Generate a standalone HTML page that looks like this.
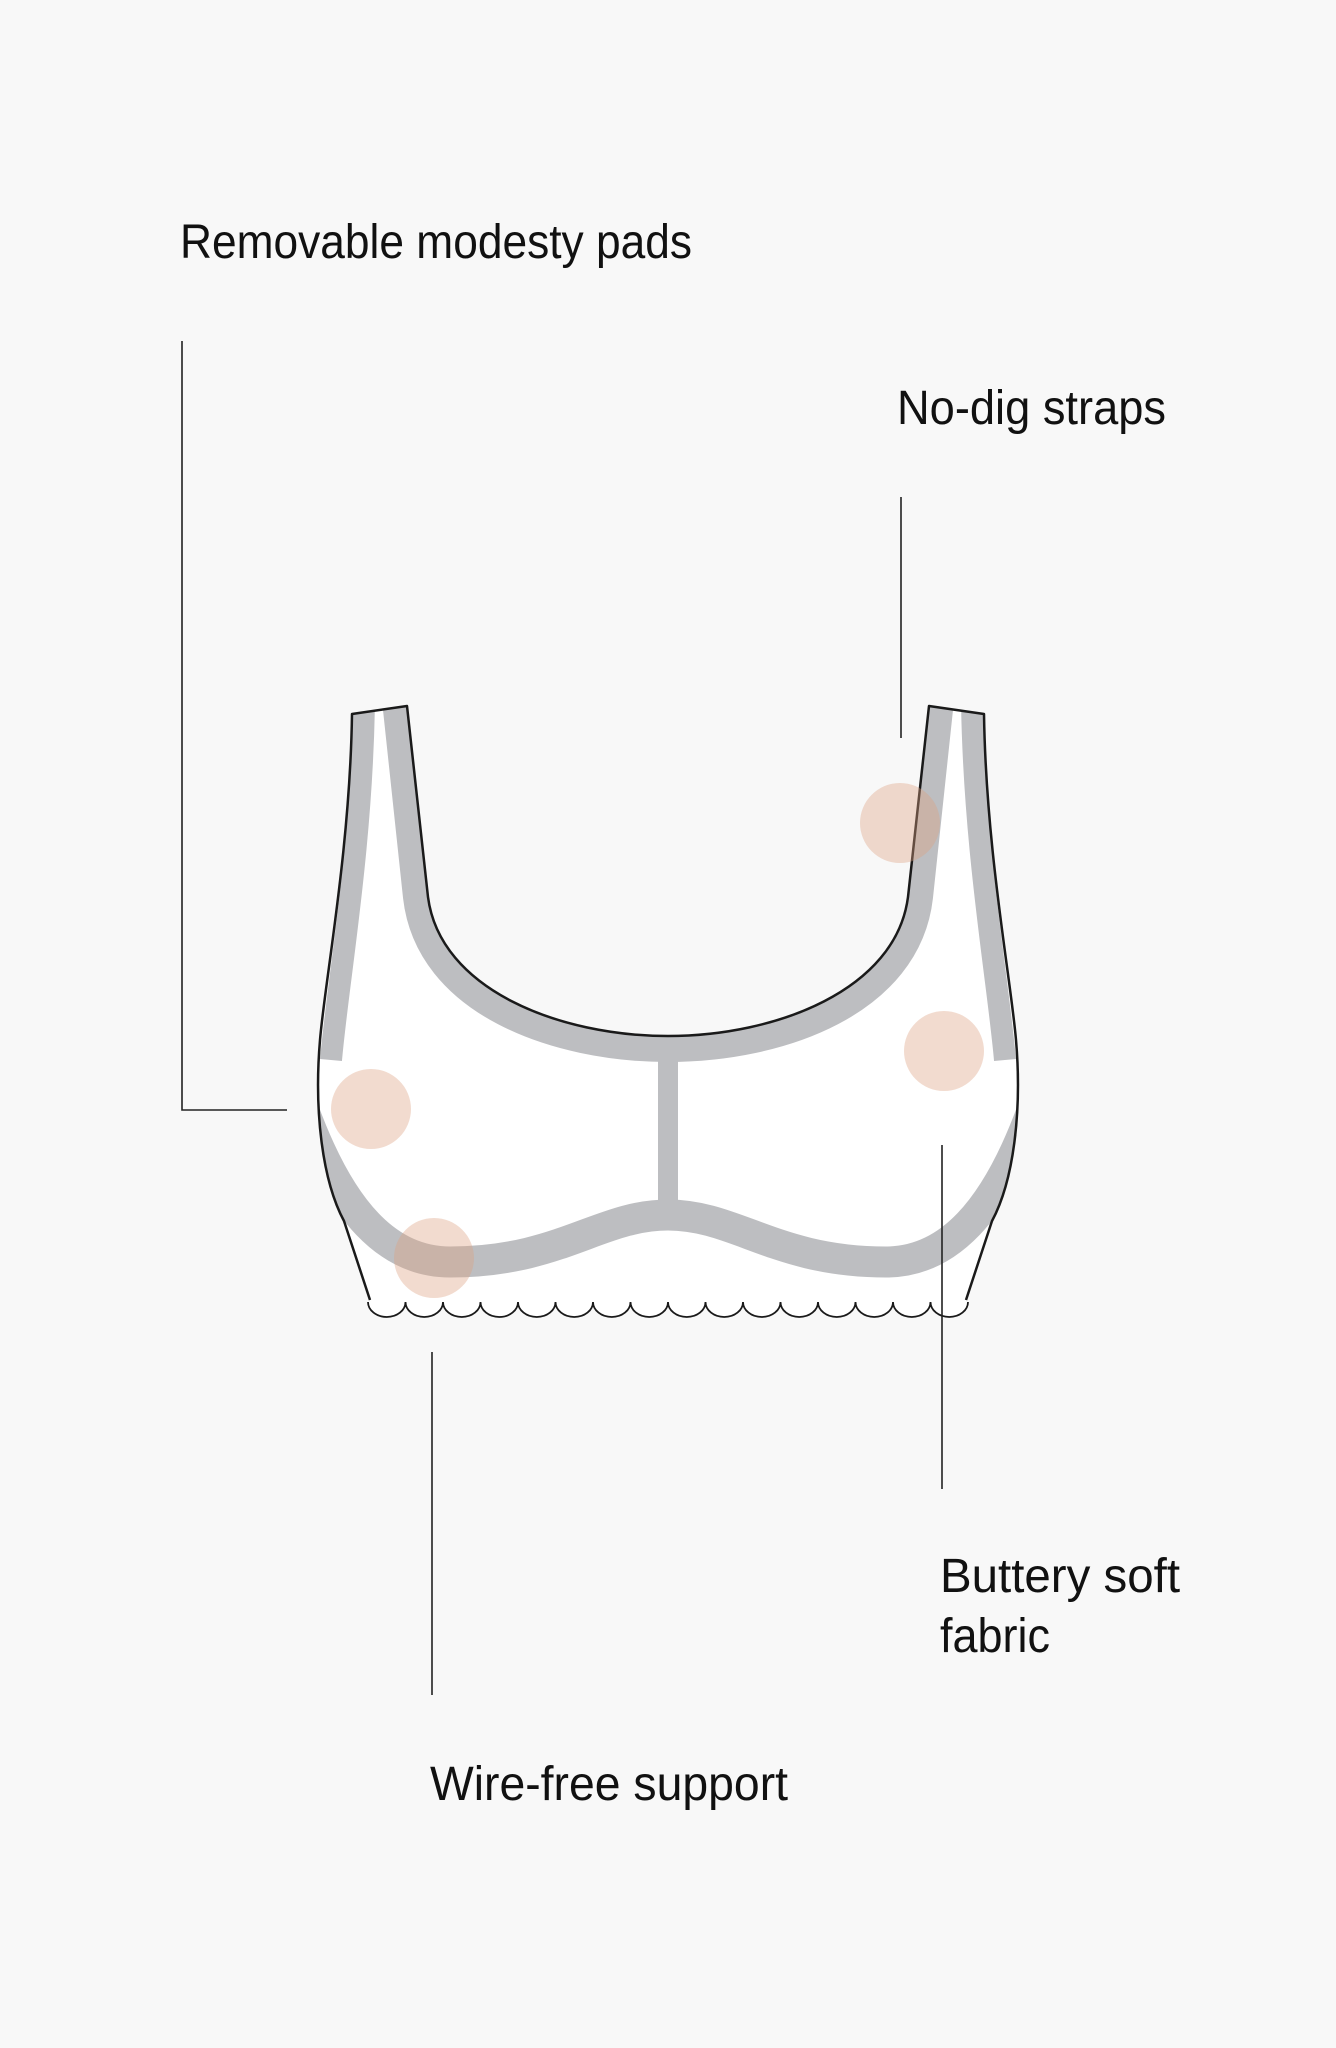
<!DOCTYPE html>
<html><head><meta charset="utf-8"><style>
html,body{margin:0;padding:0;background:#f8f8f8;}
svg{display:block;}
text{font-family:"Liberation Sans",sans-serif;fill:#111;font-size:48px;}
</style></head><body>
<svg width="1336" height="2048" viewBox="0 0 1336 2048" xmlns="http://www.w3.org/2000/svg">
<defs>
<clipPath id="bra">
<path d="M352,714 L407,706 L428,897 C440,990 560,1036 668,1036 C776,1036 896,990 908,897 L929,706 L984,714 C986,850 1011,980 1016,1040 C1022,1110 1014,1180 992,1221 L966,1302 L370,1302 L344,1221 C322,1180 314,1110 320,1040 C325,980 350,850 352,714 Z"/>
</clipPath>
</defs>
<rect width="1336" height="2048" fill="#f8f8f8"/>
<path d="M352,714 L407,706 L428,897 C440,990 560,1036 668,1036 C776,1036 896,990 908,897 L929,706 L984,714 C986,850 1011,980 1016,1040 C1022,1110 1014,1180 992,1221 L966,1302 L370,1302 L344,1221 C322,1180 314,1110 320,1040 C325,980 350,850 352,714 Z" fill="#fff"/>
<g clip-path="url(#bra)" fill="none" stroke="#bdbec1">
<path d="M364,700 C362,850 338,980 331,1060" stroke-width="22"/>
<path d="M972,700 C974,850 998,980 1005,1060" stroke-width="22"/>
<path d="M395,700 L416,897 C428,1003 555,1049 668,1049 C781,1049 908,1003 920,897 L941,700" stroke-width="26"/>
<path d="M300,1100 C340,1215 390,1262 450,1262 C560,1262 600,1215 668,1215 C736,1215 776,1262 886,1262 C946,1262 996,1215 1036,1100" stroke-width="31"/>
</g>
<rect x="658" y="1055" width="20" height="150" fill="#bdbec1"/>
<g fill="none" stroke="#1a1a1a" stroke-width="2.5" stroke-linejoin="round">
<path d="M370,1300 L344,1221 C322,1180 314,1110 320,1040 C325,980 350,850 352,714 L407,706 L428,897 C440,990 560,1036 668,1036 C776,1036 896,990 908,897 L929,706 L984,714 C986,850 1011,980 1016,1040 C1022,1110 1014,1180 992,1221 L966,1300"/>
</g>
<path d="M368,1302 a18.75,15 0 0 0 37.5,0 a18.75,15 0 0 0 37.5,0 a18.75,15 0 0 0 37.5,0 a18.75,15 0 0 0 37.5,0 a18.75,15 0 0 0 37.5,0 a18.75,15 0 0 0 37.5,0 a18.75,15 0 0 0 37.5,0 a18.75,15 0 0 0 37.5,0 a18.75,15 0 0 0 37.5,0 a18.75,15 0 0 0 37.5,0 a18.75,15 0 0 0 37.5,0 a18.75,15 0 0 0 37.5,0 a18.75,15 0 0 0 37.5,0 a18.75,15 0 0 0 37.5,0 a18.75,15 0 0 0 37.5,0 a18.75,15 0 0 0 37.5,0" fill="#fff" stroke="#1a1a1a" stroke-width="1.8"/>
<g fill="rgb(222,160,130)" fill-opacity="0.38">
<circle cx="900" cy="823" r="40"/>
<circle cx="944" cy="1051" r="40"/>
<circle cx="371" cy="1109" r="40"/>
<circle cx="434" cy="1258" r="40"/>
</g>
<g stroke="#222" stroke-width="1.6" fill="none">
<path d="M182,341 L182,1110 L287,1110"/>
<path d="M901,497 L901,738"/>
<path d="M942,1145 L942,1489"/>
<path d="M432,1352 L432,1695"/>
</g>
<text x="180" y="258" textLength="512" lengthAdjust="spacingAndGlyphs">Removable modesty  pads</text>
<text x="897" y="424" textLength="269" lengthAdjust="spacingAndGlyphs">No-dig straps</text>
<text x="940" y="1592" textLength="240" lengthAdjust="spacingAndGlyphs">Buttery soft</text>
<text x="940" y="1652" textLength="110" lengthAdjust="spacingAndGlyphs">fabric</text>
<text x="430" y="1800" textLength="358" lengthAdjust="spacingAndGlyphs">Wire-free support</text>
</svg>
</body></html>
